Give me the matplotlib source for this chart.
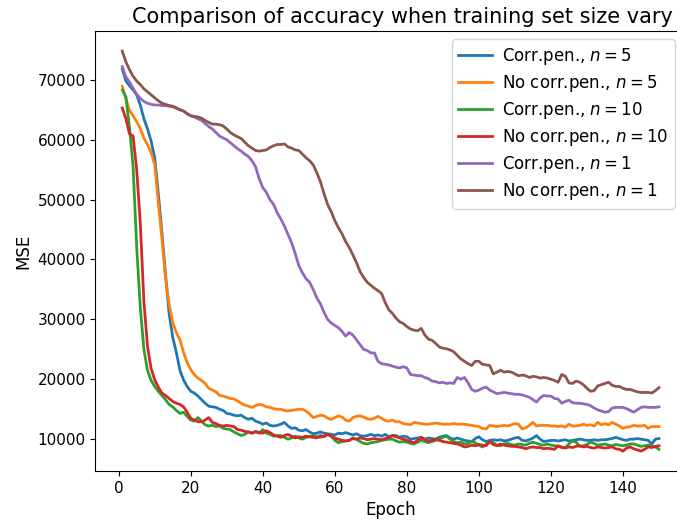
import numpy as np
import matplotlib
matplotlib.use('Agg')
import matplotlib.pyplot as plt

# MSE per epoch, in thousands
epochs = np.arange(1, 151)

corr_n5 = [
	71.8, 69.8, 69.0, 68.3, 67.5, 65.8, 63.5, 61.8, 59.8, 57.0,
	51.0, 44.5, 37.5, 31.0, 27.0, 24.5, 21.5, 19.9, 18.8, 18.0,
	17.7, 17.2, 16.6, 16.0, 15.5, 15.4, 15.3, 15.0, 14.8, 14.3,
	14.2, 14.0, 13.9, 14.0, 13.6, 13.3, 13.5, 13.0, 12.8, 12.5,
	12.7, 12.3, 12.2, 12.3, 12.5, 12.8, 12.2, 11.8, 11.9, 11.5,
	11.4, 11.6, 11.2, 10.9, 11.0, 11.2, 11.0, 10.9, 10.8, 10.7,
	11.0, 10.9, 11.1, 10.9, 10.7, 10.9, 10.6, 10.5, 10.6, 10.8,
	10.6, 10.7, 10.5, 10.8, 10.4, 10.6, 10.6, 10.3, 10.5, 10.4,
	10.0, 10.1, 10.2, 10.3, 10.0, 10.2, 10.1, 10.0, 10.3, 10.5,
	10.6, 10.2, 10.0, 10.2, 10.0, 9.8, 9.7, 9.6, 10.1, 10.4,
	9.9, 9.6, 9.8, 9.9, 9.8, 9.9, 9.7, 9.8, 10.0, 10.2,
	10.3, 9.8, 9.7, 9.9, 10.2, 10.6, 10.0, 9.6, 9.7, 9.8,
	9.8, 9.7, 9.8, 9.9, 9.7, 9.8, 9.9, 10.0, 9.9, 9.8,
	9.8, 9.9, 9.8, 9.9, 9.9, 10.0, 10.1, 10.3, 10.1, 9.9,
	9.8, 10.0, 10.0, 10.1, 10.0, 9.9, 9.8, 9.2, 10.0, 10.1]

nocorr_n5 = [
	68.9, 66.8, 64.9, 64.0, 63.0, 61.9, 60.3, 59.2, 57.9, 55.8,
	49.5, 43.5, 37.0, 32.5, 29.5, 27.8, 26.6, 24.5, 22.8, 21.6,
	20.8, 20.2, 19.8, 19.3, 18.5, 18.2, 17.9, 17.3, 17.2, 17.0,
	16.8, 16.7, 16.4, 16.0, 15.7, 15.5, 15.3, 15.6, 15.8, 15.7,
	15.4, 15.3, 15.1, 15.0, 15.0, 14.8, 14.7, 14.8, 14.9, 15.0,
	15.0, 14.7, 14.2, 13.6, 13.8, 14.0, 13.9, 13.5, 13.3, 13.6,
	13.9, 13.7, 13.2, 13.0, 13.6, 13.8, 13.9, 13.7, 13.4, 13.3,
	13.5, 13.8, 13.5, 13.1, 13.0, 13.2, 12.9, 12.9, 12.6, 12.5,
	12.4, 12.8, 12.7, 12.6, 12.5, 12.5, 12.6, 12.7, 12.6, 12.5,
	12.5, 12.5, 12.6, 12.5, 12.5, 12.5, 12.4, 12.3, 12.2, 12.1,
	11.8, 11.7, 12.3, 12.2, 12.1, 12.2, 12.3, 12.2, 12.4, 12.6,
	12.5, 11.7, 11.9, 12.3, 12.8, 12.2, 12.3, 12.3, 12.3, 12.2,
	12.2, 12.1, 12.2, 12.0, 12.5, 12.2, 12.2, 12.3, 12.5, 12.3,
	12.4, 12.2, 12.8, 12.4, 12.6, 12.4, 12.8, 12.5, 12.2, 11.8,
	12.0, 12.1, 12.3, 12.2, 12.2, 12.3, 11.8, 12.1, 12.1, 12.1]

corr_n10 = [
	68.3, 67.2, 62.0, 55.5, 42.0, 32.0, 25.0, 21.5, 19.8, 18.8,
	18.0, 17.3, 16.6, 15.8, 15.4, 14.8, 14.3, 14.5, 13.8, 13.2,
	13.0, 13.6, 13.0, 12.4, 12.2, 12.3, 12.1, 12.2, 11.8, 11.7,
	11.6, 11.2, 10.9, 10.6, 10.8, 11.2, 11.0, 11.2, 11.0, 11.6,
	11.0, 10.8, 10.5, 10.6, 10.6, 10.3, 10.0, 10.2, 10.5, 10.2,
	10.0, 10.3, 10.4, 10.6, 10.4, 10.3, 10.5, 10.8, 10.5, 9.8,
	9.4, 9.6, 9.7, 9.8, 10.2, 10.0, 9.6, 9.3, 9.2, 9.4,
	9.5, 9.6, 9.8, 9.9, 10.0, 10.0, 9.7, 9.5, 9.6, 9.5,
	9.3, 9.2, 9.5, 9.8, 9.6, 9.4, 9.6, 9.8, 10.0, 10.3,
	10.5, 10.0, 9.6, 9.4, 9.5, 9.2, 9.3, 9.6, 9.4, 9.0,
	8.7, 9.1, 9.6, 9.4, 9.0, 8.9, 9.2, 9.3, 9.1, 9.0,
	9.2, 9.1, 9.0, 9.3, 9.5, 9.3, 9.1, 9.0, 9.2, 9.0,
	8.9, 8.8, 8.7, 8.6, 9.2, 9.7, 9.5, 8.8, 8.9, 9.1,
	9.5, 9.3, 9.0, 9.1, 9.2, 9.0, 8.9, 9.1, 9.0, 8.9,
	9.0, 9.2, 9.2, 9.0, 8.8, 8.9, 9.0, 8.9, 8.7, 8.3]

nocorr_n10 = [
	65.3, 63.5, 61.0, 60.6, 55.0, 46.0, 33.0, 25.5, 21.8, 19.9,
	18.7, 17.7, 17.3, 16.8, 16.3, 16.0, 15.8, 15.4, 14.5, 13.5,
	13.2, 12.9, 12.9, 13.2, 13.6, 12.8, 12.6, 12.3, 12.2, 12.3,
	12.2, 12.1, 11.6, 11.5, 11.3, 11.2, 11.0, 11.3, 11.1, 11.0,
	11.4, 11.1, 10.7, 10.5, 10.3, 10.6, 10.8, 10.5, 10.2, 10.4,
	10.3, 10.5, 10.4, 10.3, 10.2, 10.6, 10.4, 10.8, 10.5, 10.2,
	10.0, 9.8, 9.7, 9.8, 10.1, 10.0, 10.2, 10.1, 9.9, 10.0,
	10.1, 10.0, 9.9, 10.1, 10.3, 10.6, 10.4, 10.2, 10.0, 9.8,
	9.6, 9.4, 9.8, 10.3, 9.9, 9.7, 9.8, 10.0, 9.8, 9.6,
	9.5, 9.4, 9.3, 9.2, 9.0, 8.7, 8.8, 9.0, 8.9, 9.1,
	9.0, 8.9, 9.6, 9.1, 8.9, 9.2, 9.0, 8.9, 8.8, 8.8,
	8.7, 8.6, 8.4, 8.6, 8.7, 8.6, 8.6, 8.4, 8.5, 8.4,
	8.3, 8.9, 8.6, 8.5, 8.7, 8.6, 8.8, 8.9, 8.7, 8.8,
	8.6, 8.5, 8.7, 8.6, 8.5, 8.6, 8.7, 8.4, 8.3, 8.0,
	8.5, 8.7, 8.4, 8.2, 8.0, 8.3, 8.7, 8.6, 8.8, 8.9]

corr_n1 = [
	72.2, 70.5, 69.6, 68.6, 67.6, 66.9, 66.4, 66.1, 65.9, 65.8,
	65.8, 65.7, 65.7, 65.6, 65.5, 65.3, 65.0, 64.8, 64.4, 64.0,
	63.8, 63.5, 63.2, 62.7, 62.2, 61.8, 61.2, 60.6, 60.3, 60.0,
	59.5, 59.0, 58.5, 58.1, 57.6, 57.2, 56.5, 55.5, 53.5, 52.0,
	51.2, 50.0, 49.2, 47.8, 46.8, 45.6, 44.2, 42.8, 41.0, 39.0,
	37.8, 36.8, 36.2, 35.0, 33.6, 32.6, 31.2, 30.0, 29.4, 29.0,
	28.6, 28.0, 27.2, 27.8, 27.4, 26.6, 25.8, 25.0, 24.8, 24.4,
	24.4, 23.0, 22.6, 22.5, 22.4, 22.2, 22.0, 21.9, 22.1, 21.9,
	20.8, 20.7, 20.6, 20.6, 20.3, 20.1, 19.7, 19.6, 19.4, 19.5,
	19.3, 19.4, 19.3, 20.3, 20.0, 20.3, 19.4, 18.3, 18.0, 18.2,
	18.5, 18.7, 18.2, 17.9, 17.6, 17.7, 17.8, 17.7, 17.6, 17.5,
	17.5, 17.4, 17.2, 17.0, 16.6, 16.2, 16.9, 17.3, 17.2, 17.2,
	16.8, 16.7, 16.0, 16.3, 16.5, 16.1, 16.0, 16.0, 15.9, 15.8,
	15.6, 15.2, 14.9, 14.7, 14.5, 14.6, 15.2, 15.3, 15.3, 15.3,
	15.1, 14.8, 14.5, 14.9, 15.3, 15.4, 15.3, 15.3, 15.3, 15.4]

nocorr_n1 = [
	74.8, 73.0, 71.7, 70.6, 69.8, 69.2, 68.5, 68.0, 67.5, 67.0,
	66.5, 66.1, 65.9, 65.7, 65.6, 65.3, 65.0, 64.8, 64.3, 64.0,
	63.9, 63.8, 63.6, 63.2, 62.9, 62.6, 62.6, 62.5, 62.3, 61.8,
	61.2, 60.8, 60.5, 60.2, 59.6, 59.0, 58.6, 58.2, 58.1, 58.2,
	58.3, 58.7, 59.0, 59.2, 59.2, 59.3, 58.8, 58.6, 58.3, 58.2,
	57.6, 57.0, 56.5, 55.8, 54.5, 53.0, 51.0, 49.2, 48.0, 46.5,
	45.3, 44.3, 43.0, 42.0, 40.8, 39.5, 38.0, 37.0, 36.2, 35.7,
	35.2, 34.8, 34.3, 32.8, 31.6, 31.0, 30.2, 29.6, 29.3, 28.8,
	28.4, 28.2, 28.1, 28.5, 27.4, 26.7, 26.5, 26.0, 25.4, 25.2,
	25.1, 24.9, 24.6, 24.0, 23.4, 23.0, 22.6, 22.3, 23.0, 23.0,
	22.5, 22.4, 22.3, 20.9, 21.2, 21.5, 21.2, 21.3, 21.2, 20.9,
	20.6, 20.7, 20.6, 20.3, 20.5, 20.4, 20.2, 20.3, 20.2, 20.0,
	19.8, 19.5, 20.8, 20.5, 19.4, 19.3, 19.7, 19.5, 19.1, 18.5,
	18.0, 18.1, 18.9, 19.1, 19.3, 19.5, 19.0, 18.8, 18.8, 18.5,
	18.3, 18.3, 18.1, 17.9, 17.8, 17.8, 17.8, 17.7, 18.1, 18.6]

series = [
	(corr_n5, r'Corr.pen., $n = 5$'),
	(nocorr_n5, r'No corr.pen., $n = 5$'),
	(corr_n10, r'Corr.pen., $n = 10$'),
	(nocorr_n10, r'No corr.pen., $n = 10$'),
	(corr_n1, r'Corr.pen., $n = 1$'),
	(nocorr_n1, r'No corr.pen., $n = 1$'),
]

fig = plt.figure(figsize=(6.77, 5.27), dpi=100)
# right spine sits just past the figure edge, like the cropped original
ax = fig.add_axes([0.141, 0.106, 0.872, 0.835])

for vals, label in series:
	ax.plot(epochs, np.array(vals) * 1000, label=label, linewidth=2)

ax.set_title('Comparison of accuracy when training set size vary', fontsize=15, x=0.52)
ax.set_xlabel('Epoch', fontsize=12)
ax.set_ylabel('MSE', fontsize=12)
ax.tick_params(labelsize=11)
ax.set_xticks(np.arange(0, 141, 20))
ax.legend(loc='upper right', fontsize=12, labelspacing=0.36,
	handletextpad=0.6, bbox_to_anchor=(0.995, 1.0))

fig.savefig('out.png', dpi=100)
